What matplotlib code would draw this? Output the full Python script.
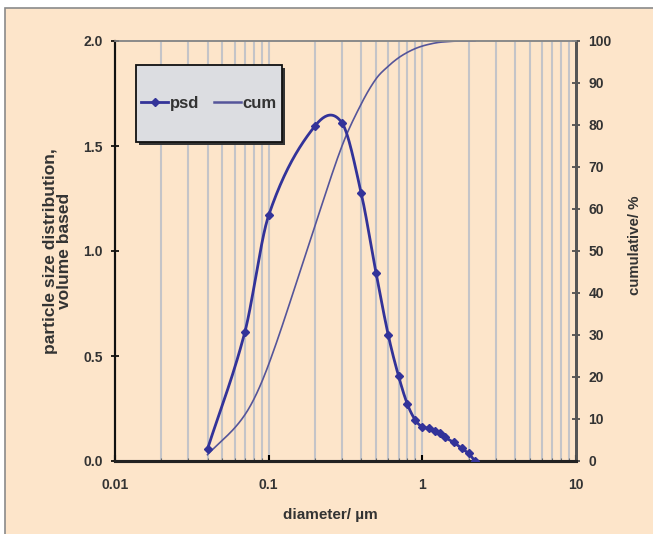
import numpy as np
import matplotlib
matplotlib.use("Agg")
import matplotlib.pyplot as plt
from matplotlib.patches import Rectangle
from matplotlib.lines import Line2D
from matplotlib.ticker import FixedLocator, FuncFormatter

# diameters (um)
diameter = [0.04, 0.07, 0.1, 0.2, 0.3, 0.4, 0.5, 0.6, 0.7, 0.8, 0.9,
            1.0, 1.1, 1.2, 1.3, 1.4, 1.6, 1.8, 2.0, 2.2]
# particle size distribution, volume based (left axis)
psd = [0.057, 0.614, 1.17, 1.595, 1.61, 1.276, 0.895, 0.60, 0.405, 0.27, 0.195,
       0.162, 0.156, 0.144, 0.132, 0.113, 0.089, 0.060, 0.036, 0.0]
# cumulative % (right axis)
cum = [1.5, 11.0, 23.0, 56.0, 75.0, 85.0, 91.0, 94.0, 96.0, 97.3, 98.2,
       98.8, 99.2, 99.5, 99.7, 99.8, 99.95, 100.0, 100.0, 100.0]

left_ticks = [0.0, 0.5, 1.0, 1.5, 2.0]
right_ticks = list(range(0, 101, 10))
x_ticks = [0.01, 0.1, 1, 10]
x_labels = ["0.01", "0.1", "1", "10"]

PEACH = "#FDE5CA"
PLOT_BG = "#DCDDE1"
GRID = "#C4C4C8"
DARK = "#333399"
CUM_C = "#55559A"
TXT = "#333333"


def smooth(x, y, n=24):
    """Excel-like smoothed line: cubic Hermite through the points in log-x space."""
    lx = np.log10(np.asarray(x, float))
    y = np.asarray(y, float)
    m = np.empty_like(y)
    m[0] = (y[1] - y[0]) / (lx[1] - lx[0])
    m[-1] = (y[-1] - y[-2]) / (lx[-1] - lx[-2])
    m[1:-1] = (y[2:] - y[:-2]) / (lx[2:] - lx[:-2])
    xs, ys = [], []
    for i in range(len(lx) - 1):
        h = lx[i + 1] - lx[i]
        t = np.linspace(0, 1, n, endpoint=False)
        h00 = 2 * t**3 - 3 * t**2 + 1
        h10 = t**3 - 2 * t**2 + t
        h01 = -2 * t**3 + 3 * t**2
        h11 = t**3 - t**2
        xs.append(lx[i] + t * h)
        ys.append(h00 * y[i] + h10 * h * m[i] + h01 * y[i + 1] + h11 * h * m[i + 1])
    xs.append([lx[-1]])
    ys.append([y[-1]])
    return 10 ** np.concatenate(xs), np.concatenate(ys)


plt.rcParams['font.family'] = ['Liberation Sans', 'DejaVu Sans']
plt.rcParams['font.weight'] = 'bold'

fig = plt.figure(figsize=(6.53, 5.34), dpi=100)
fig.patch.set_facecolor("white")
fig.add_artist(Rectangle((5 / 653, -0.02), 1.0, 1 - 8 / 534 + 0.02,
                         transform=fig.transFigure, facecolor=PEACH,
                         edgecolor="#8A8A8A", linewidth=1.2, zorder=-10))

ax = fig.add_axes([115 / 653, 1 - 461 / 534, 461 / 653, 420 / 534])
ax.set_xscale("log")
ax.set_xlim(0.01, 10)
ax.set_ylim(0, 2.0)

ax2 = ax.twinx()
ax2.set_ylim(0, 100)
# grey plot background sits on ax2, which is drawn below ax
ax.patch.set_visible(False)
ax2.patch.set_facecolor(PLOT_BG)
ax2.set_zorder(0)
ax.set_zorder(1)

# vertical log gridlines
grid_x = [k * 10.0**e for e in (-2, -1, 0) for k in range(1, 10)][1:]
for gx in grid_x:
    ax2.axvline(gx, color=GRID, lw=1.5, zorder=0.5)

# curves
sx, sy = smooth(diameter, cum)
ax2.plot(sx, sy, color=CUM_C, lw=1.2, zorder=3)
px, py = smooth(diameter, psd)
ax.plot(px, py, color=DARK, lw=2.0, zorder=4)
ax.plot(diameter, psd, ls="none", marker="D", ms=4, color=DARK, zorder=5)

# ticks
ax.xaxis.set_major_locator(FixedLocator(x_ticks))
ax.set_xticklabels(x_labels)
ax.xaxis.set_minor_locator(FixedLocator(grid_x))
ax.xaxis.set_minor_formatter(FuncFormatter(lambda v, p: ""))
ax.tick_params(axis="x", which="major", direction="in", length=4, width=1.5,
               pad=12, labelsize=10, labelcolor=TXT)
ax.tick_params(axis="x", which="minor", direction="in", length=2.5, width=0.8,
               color="#666666")
ax.set_yticks(left_ticks)
ax.yaxis.set_major_formatter(FuncFormatter(lambda v, p: "%.1f" % v))
ax.tick_params(axis="y", direction="inout", length=6, width=1.2, pad=6,
               labelsize=10, labelcolor=TXT)
ax2.set_yticks(right_ticks)
ax2.tick_params(axis="y", direction="inout", length=6, width=1.2, pad=6,
                labelsize=10, labelcolor=TXT, color="#444444")

for a in (ax, ax2):
    a.spines["left"].set_color("#111111")
    a.spines["left"].set_linewidth(1.5)
    a.spines["bottom"].set_color("#222222")
    a.spines["bottom"].set_linewidth(2.2)
    a.spines["right"].set_color("#555555")
    a.spines["right"].set_linewidth(2.0)
    a.spines["top"].set_color("#8A8A8A")
    a.spines["top"].set_linewidth(1.2)

# labels
ax.set_xlabel("diameter/ µm", fontsize=11, fontweight="bold", color=TXT)
ax.xaxis.set_label_coords((330 - 115) / 461, (461 - 515) / 420)
ax.xaxis.label.set_va("center")
ax.set_ylabel("particle size distribution,\nvolume based", fontsize=12.5,
              fontweight="bold", color=TXT, linespacing=0.9)
ax.yaxis.set_label_coords((72 - 115) / 461, 0.5)
ax2.set_ylabel("cumulative/ %", fontsize=10.8, fontweight="bold", color=TXT,
               rotation=90)
ax2.yaxis.set_label_coords((628 - 115) / 461, (461 - 245) / 420)

# legend box with shadow
bx0, by0 = (136 - 115) / 461, (461 - 142) / 420
bw, bh = (282 - 136) / 461, (142 - 65) / 420
ax.add_patch(Rectangle((bx0 + 0.006, by0 - 0.007), bw, bh, transform=ax.transAxes,
                       facecolor="#333333", edgecolor="none", zorder=6))
ax.add_patch(Rectangle((bx0, by0), bw, bh, transform=ax.transAxes,
                       facecolor=PLOT_BG, edgecolor="#111111", lw=1.3, zorder=7))
handles = [Line2D([], [], color=DARK, lw=2, marker="D", ms=4),
           Line2D([], [], color=CUM_C, lw=1.8)]
leg = ax.legend(handles, ["psd", "cum"], loc="center",
                bbox_to_anchor=(bx0 + bw / 2, by0 + bh / 2), ncol=2,
                frameon=False, prop={"weight": "bold", "size": 12},
                handlelength=1.6, handletextpad=0.1, columnspacing=0.9,
                borderaxespad=0)
leg.set_zorder(8)
for t in leg.get_texts():
    t.set_color(TXT)

fig.savefig("out.png", dpi=100)
